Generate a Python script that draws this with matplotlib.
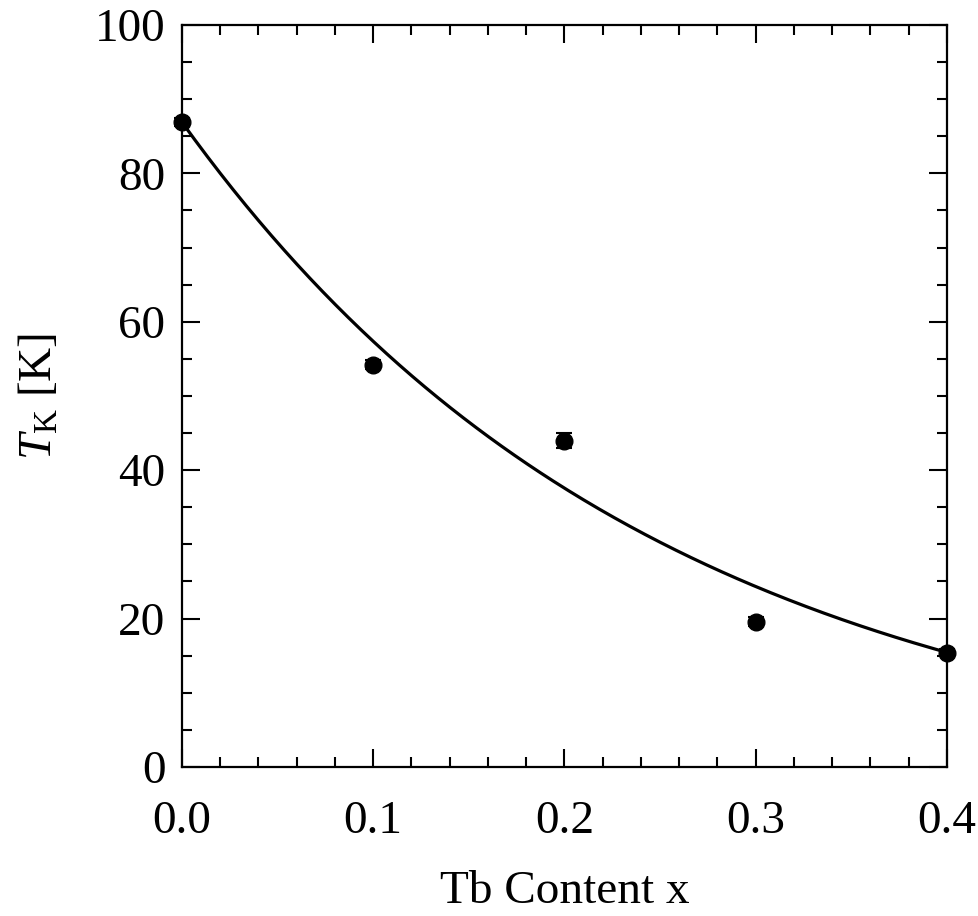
import numpy as np
import matplotlib
matplotlib.use("Agg")
import matplotlib.pyplot as plt
from matplotlib.ticker import MultipleLocator

plt.rcParams['font.family'] = ['Liberation Serif', 'DejaVu Serif']
plt.rcParams['mathtext.fontset'] = 'custom'
plt.rcParams['mathtext.rm'] = 'Liberation Serif'
plt.rcParams['mathtext.it'] = 'Liberation Serif:italic'

# Kondo temperature vs Tb content
tb_content = [0.0, 0.1, 0.2, 0.3, 0.4]
t_kondo = [86.9, 54.2, 44.0, 19.6, 15.4]
t_kondo_err = [0.5, 0.6, 1.0, 0.6, 0.5]

# exponential fit  T = A*exp(-x/t) + y0
fit_A = 89.5
fit_t = 0.2497
fit_y0 = -2.6

fig = plt.figure(figsize=(9.79, 9.16), dpi=100)
ax = fig.add_axes([0.1859, 0.1627, 0.7814, 0.81])

xs = np.linspace(0.0, 0.4, 300)
ax.plot(xs, fit_A * np.exp(-xs / fit_t) + fit_y0, color='black', lw=2.3, zorder=2)
ax.errorbar(tb_content, t_kondo, yerr=t_kondo_err, fmt='o', color='black',
            ms=12, capsize=6, elinewidth=1.5, capthick=1.5, zorder=3, clip_on=False)

ax.set_xlim(0.0, 0.4)
ax.set_ylim(0, 100)
ax.xaxis.set_major_locator(MultipleLocator(0.1))
ax.xaxis.set_minor_locator(MultipleLocator(0.02))
ax.yaxis.set_major_locator(MultipleLocator(20))
ax.yaxis.set_minor_locator(MultipleLocator(5))
ax.xaxis.set_major_formatter(plt.FormatStrFormatter('%.1f'))

ax.tick_params(which='both', direction='in', top=True, right=True, labelsize=34, width=1.5)
ax.tick_params(which='major', length=13)
ax.tick_params(which='minor', length=7)
ax.tick_params(axis='x', which='major', pad=24)
ax.tick_params(axis='y', which='major', pad=12)
for s in ax.spines.values():
    s.set_linewidth(1.6)

ax.set_xlabel('Tb Content x', fontsize=34, labelpad=20)
ax.set_ylabel(r'$T_{\mathrm{K}}$ [K]', fontsize=34, labelpad=24)

fig.savefig('out.png', dpi=100)
